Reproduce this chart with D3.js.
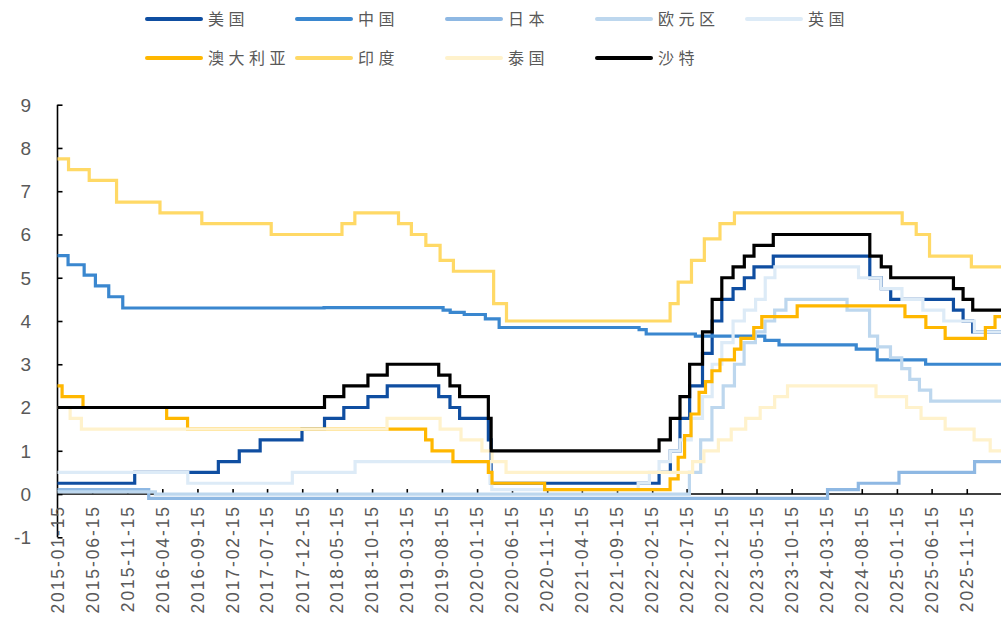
<!DOCTYPE html>
<html>
<head>
<meta charset="utf-8">
<script src="https://cdn.jsdelivr.net/npm/d3@7"></script>
<style>
  body { margin: 0; background: #fff; }
  svg { display: block; }
</style>
</head>
<body>
<div id="chart"></div>
<script>
// policy rate change points: [date, rate %]
var usRate = [["2015-01-15",0.25],["2015-12-17",0.5],["2016-12-15",0.75],["2017-03-16",1.0],["2017-06-15",1.25],["2017-12-14",1.5],["2018-03-22",1.75],["2018-06-14",2.0],["2018-09-27",2.25],["2018-12-20",2.5],["2019-08-01",2.25],["2019-09-19",2.0],["2019-10-31",1.75],["2020-03-04",1.25],["2020-03-16",0.25],["2022-03-17",0.5],["2022-05-05",1.0],["2022-06-16",1.75],["2022-07-28",2.5],["2022-09-22",3.25],["2022-11-03",4.0],["2022-12-15",4.5],["2023-02-02",4.75],["2023-03-23",5.0],["2023-05-04",5.25],["2023-07-27",5.5],["2024-09-19",5.0],["2024-11-08",4.75],["2024-12-19",4.5],["2025-09-18",4.25],["2025-10-30",4.0],["2025-12-11",3.75]];
var cnRate = [["2015-01-15",5.51],["2015-03-02",5.30],["2015-05-11",5.06],["2015-06-29",4.81],["2015-08-26",4.56],["2015-10-26",4.30],["2018-03-20",4.31],["2019-08-20",4.25],["2019-09-20",4.20],["2019-11-20",4.15],["2020-02-20",4.05],["2020-04-20",3.85],["2021-12-20",3.80],["2022-01-20",3.70],["2022-08-22",3.65],["2023-06-20",3.55],["2023-08-21",3.45],["2024-07-22",3.35],["2024-10-21",3.10],["2025-05-20",3.00]];
var jpRate = [["2015-01-15",0.1],["2016-02-16",-0.1],["2024-03-19",0.1],["2024-07-31",0.25],["2025-01-24",0.5],["2025-12-19",0.75]];
var euRate = [["2015-01-15",0.05],["2016-03-16",0.0],["2022-07-27",0.5],["2022-09-14",1.25],["2022-11-02",2.0],["2022-12-21",2.5],["2023-02-08",3.0],["2023-03-22",3.5],["2023-05-10",3.75],["2023-06-21",4.0],["2023-08-02",4.25],["2023-09-20",4.5],["2024-06-12",4.25],["2024-09-18",3.65],["2024-10-23",3.4],["2024-12-18",3.15],["2025-02-05",2.9],["2025-03-12",2.65],["2025-04-23",2.4],["2025-06-11",2.15]];
var ukRate = [["2015-01-15",0.5],["2016-08-04",0.25],["2017-11-02",0.5],["2018-08-02",0.75],["2020-03-11",0.25],["2020-03-19",0.1],["2021-12-16",0.25],["2022-02-03",0.5],["2022-03-17",0.75],["2022-05-05",1.0],["2022-06-16",1.25],["2022-08-04",1.75],["2022-09-22",2.25],["2022-11-03",3.0],["2022-12-15",3.5],["2023-02-02",4.0],["2023-03-23",4.25],["2023-05-11",4.5],["2023-06-22",5.0],["2023-08-03",5.25],["2024-08-01",5.0],["2024-11-07",4.75],["2025-02-06",4.5],["2025-05-08",4.25],["2025-08-07",4.0],["2025-12-18",3.75]];
var auRate = [["2015-01-15",2.5],["2015-02-04",2.25],["2015-05-06",2.0],["2016-05-04",1.75],["2016-08-03",1.5],["2019-06-05",1.25],["2019-07-03",1.0],["2019-10-02",0.75],["2020-03-04",0.5],["2020-03-20",0.25],["2020-11-04",0.1],["2022-05-04",0.35],["2022-06-08",0.85],["2022-07-06",1.35],["2022-08-03",1.85],["2022-09-07",2.35],["2022-10-05",2.6],["2022-11-02",2.85],["2022-12-07",3.1],["2023-02-08",3.35],["2023-03-08",3.6],["2023-05-03",3.85],["2023-06-07",4.1],["2023-11-08",4.35],["2025-02-19",4.1],["2025-05-21",3.85],["2025-08-13",3.6],["2026-02-04",3.85],["2026-03-18",4.1]];
var inRate = [["2015-01-15",7.75],["2015-03-04",7.5],["2015-06-02",7.25],["2015-09-29",6.75],["2016-04-05",6.5],["2016-10-04",6.25],["2017-08-02",6.0],["2018-06-06",6.25],["2018-08-01",6.5],["2019-02-07",6.25],["2019-04-04",6.0],["2019-06-06",5.75],["2019-08-07",5.4],["2019-10-04",5.15],["2020-03-27",4.4],["2020-05-22",4.0],["2022-05-04",4.4],["2022-06-08",4.9],["2022-08-05",5.4],["2022-09-30",5.9],["2022-12-07",6.25],["2023-02-08",6.5],["2025-02-07",6.25],["2025-04-09",6.0],["2025-06-06",5.5],["2025-12-05",5.25]];
var thRate = [["2015-01-15",2.0],["2015-03-11",1.75],["2015-04-29",1.5],["2018-12-19",1.75],["2019-08-07",1.5],["2019-11-06",1.25],["2020-02-05",1.0],["2020-03-20",0.75],["2020-05-20",0.5],["2022-08-10",0.75],["2022-09-28",1.0],["2022-11-30",1.25],["2023-01-25",1.5],["2023-03-29",1.75],["2023-05-31",2.0],["2023-08-02",2.25],["2023-09-27",2.5],["2024-10-16",2.25],["2025-02-26",2.0],["2025-04-30",1.75],["2025-08-13",1.5],["2025-12-17",1.25],["2026-02-25",1.0]];
var saRate = [["2015-01-15",2.0],["2018-03-22",2.25],["2018-06-14",2.5],["2018-09-27",2.75],["2018-12-20",3.0],["2019-08-01",2.75],["2019-09-19",2.5],["2019-10-31",2.25],["2020-03-04",1.75],["2020-03-16",1.0],["2022-03-17",1.25],["2022-05-05",1.75],["2022-06-16",2.25],["2022-07-28",3.0],["2022-09-22",3.75],["2022-11-03",4.5],["2022-12-15",5.0],["2023-02-02",5.25],["2023-03-23",5.5],["2023-05-04",5.75],["2023-07-27",6.0],["2024-09-19",5.5],["2024-11-08",5.25],["2024-12-19",5.0],["2025-09-18",4.75],["2025-10-30",4.5],["2025-12-11",4.25]];

var seriesNames = ["美国","中国","日本","欧元区","英国","澳大利亚","印度","泰国","沙特"];
var seriesData  = [usRate, cnRate, jpRate, euRate, ukRate, auRate, inRate, thRate, saRate];
var colors = ["#0F4EA1","#3A87CF","#8EB8E3","#BDD7EE","#DDEBF7","#FFB700","#FFD966","#FFF2CC","#000000"];

var startDate = "2015-01-15";
var endDate   = "2026-04-13";
var yTicks = [-1,0,1,2,3,4,5,6,7,8,9];
var xTickLabels = ["2015-01-15","2015-06-15","2015-11-15","2016-04-15","2016-09-15","2017-02-15","2017-07-15","2017-12-15","2018-05-15","2018-10-15","2019-03-15","2019-08-15","2020-01-15","2020-06-15","2020-11-15","2021-04-15","2021-09-15","2022-02-15","2022-07-15","2022-12-15","2023-05-15","2023-10-15","2024-03-15","2024-08-15","2025-01-15","2025-06-15","2025-11-15"];

var w = 1006, h = 620;
var parse = d3.timeParse("%Y-%m-%d");
var grey = "#595959";

var svg = d3.select("#chart").append("svg")
    .attr("width", w)
    .attr("height", h);

var x = d3.scaleTime()
    .domain([parse(startDate), parse(endDate)])
    .range([57.5, 1001]);
var y = d3.scaleLinear()
    .domain([-1, 9])
    .range([537.3, 104.7]);

// y axis, ticks pointing inward
var yAxis = svg.append("g")
    .attr("transform", "translate(" + x.range()[0] + ",0)")
    .call(d3.axisRight(y).tickValues(yTicks).tickSize(5).tickFormat(""));
yAxis.select(".domain").attr("d", "M0," + y(-1) + "V" + y(9)).attr("stroke", "#000").attr("stroke-width", 1.6);
yAxis.selectAll(".tick line").attr("stroke", "#000").attr("stroke-width", 1.6);

svg.selectAll("text.ylab").data(yTicks).enter().append("text")
    .attr("class", "ylab")
    .attr("x", 31)
    .attr("y", function(d) { return y(d); })
    .attr("dy", "0.36em")
    .attr("text-anchor", "end")
    .attr("fill", grey)
    .style("font-family", "'Liberation Sans', Arial, sans-serif")
    .style("font-size", "19px")
    .text(function(d) { return d; });

// x axis along zero, ticks pointing up
var xTickDates = xTickLabels.map(parse);
var xAxis = svg.append("g")
    .attr("transform", "translate(0," + y(0) + ")")
    .call(d3.axisTop(x).tickValues(xTickDates).tickSize(5).tickSizeOuter(0).tickFormat(""));
xAxis.select(".domain").attr("d", "M" + x.range()[0] + ",0H" + x.range()[1]).attr("stroke", "#000").attr("stroke-width", 1.6);
xAxis.selectAll(".tick line").attr("stroke", "#000").attr("stroke-width", 1.6);

svg.selectAll("text.xlab").data(xTickLabels).enter().append("text")
    .attr("class", "xlab")
    .attr("transform", function(d) { return "translate(" + x(parse(d)) + ",505) rotate(-90)"; })
    .attr("dy", "0.36em")
    .attr("text-anchor", "end")
    .attr("fill", grey)
    .style("font-family", "'Liberation Sans', Arial, sans-serif")
    .style("font-size", "17.5px")
    .style("letter-spacing", "1.9px")
    .text(function(d) { return d; });

// step lines
var line = d3.line()
    .x(function(d) { return x(d.date); })
    .y(function(d) { return y(d.value); })
    .curve(d3.curveStepAfter);

seriesData.forEach(function(s, i) {
  var pts = s.map(function(p) { return { date: parse(p[0]), value: p[1] }; });
  pts.push({ date: parse(endDate), value: s[s.length - 1][1] });
  svg.append("path")
     .datum(pts)
     .attr("fill", "none")
     .attr("stroke", colors[i])
     .attr("stroke-width", 3.2)
     .attr("d", line);
});

// legend
var legend = svg.append("g").attr("class", "legend");
seriesNames.forEach(function(name, i) {
  var col = i < 5 ? i : i - 5;
  var row = i < 5 ? 0 : 1;
  var lx = 147 + col * 150;
  var ly = row === 0 ? 19 : 58;
  var g = legend.append("g").attr("transform", "translate(" + lx + "," + ly + ")");
  g.append("line")
   .attr("x1", 0).attr("x2", 54).attr("y1", 0).attr("y2", 0)
   .attr("stroke", colors[i])
   .attr("stroke-width", 4)
   .attr("stroke-linecap", "round");
  g.append("text")
   .attr("x", 61)
   .attr("y", 0)
   .attr("dy", "0.36em")
   .attr("fill", grey)
   .style("font-family", "'Noto Sans CJK SC', sans-serif")
   .style("font-size", "16px")
   .style("letter-spacing", "4.5px")
   .text(name);
});
</script>
</body>
</html>
